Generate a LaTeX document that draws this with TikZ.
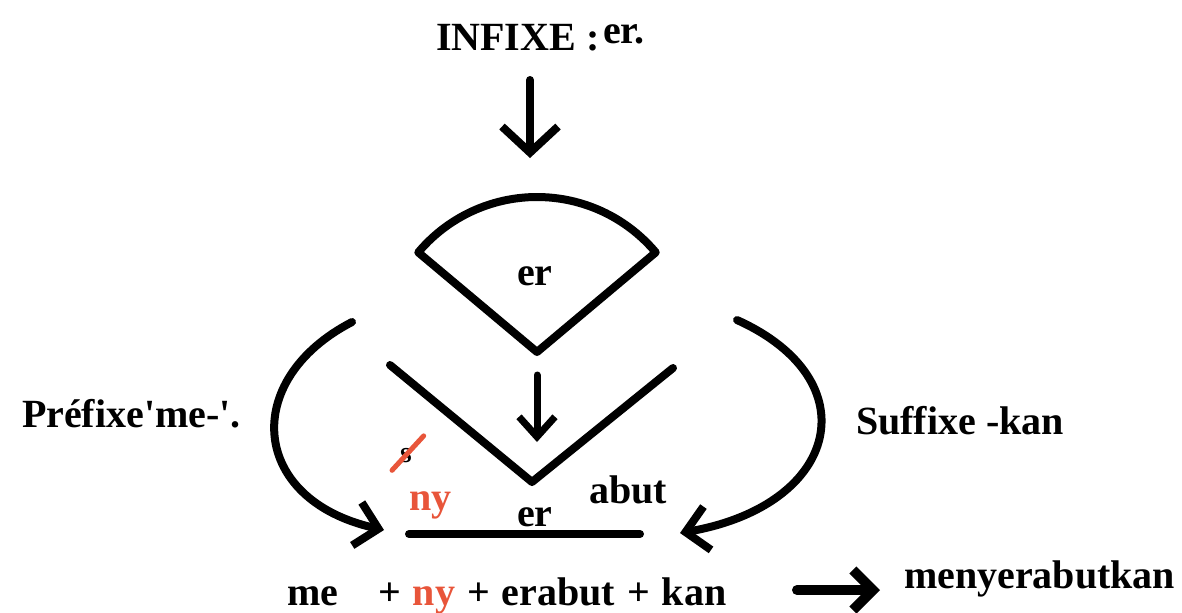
\documentclass[tikz,border=0pt]{standalone}
\usepackage{fontspec}
\setmainfont{Liberation Serif}
\usetikzlibrary{arrows.meta, positioning}
\definecolor{cred}{HTML}{E8553A}
\tikzset{
  every picture/.style={line width=4pt, line cap=round, line join=round},
  lbl/.style={font=\fontsize{20}{24}\selectfont\bfseries, inner sep=0pt, anchor=base west},
  arrow/.style={-{Straight Barb[#1]}},
  arrow/.default={length=11pt, width=22pt},
}

\begin{document}
\begin{tikzpicture}[x=0.5pt, y=-0.5pt]
  \useasboundingbox (0,0) rectangle (1182,612);
  % top label and first arrow
  \node[lbl] (infixe) at (432,50) {INFIXE :};
  \node[lbl] (infixeer) at (599,43) {er.};
  \coordinate (a1s) at (530,80);
  \coordinate (a1e) at (530,158);
  \draw[arrow={length=13pt, width=28pt}] (a1s) -- (a1e);
  % the fan with the infix
  \coordinate (fanapex) at (537,352);
  \draw (fanapex) -- +(220:155) arc[start angle=220, end angle=320, radius=155] -- cycle;
  \node[lbl] (faner) at (513,285) {er};
  \coordinate (a2s) at (537,375);
  \coordinate (a2e) at (537,442);
  \draw[arrow={length=10pt, width=18pt}, line width=3.5pt] (a2s) -- (a2e);
  % the opened root
  \coordinate (vl) at (390,365);
  \coordinate (vb) at (532,482);
  \coordinate (vr) at (673,368);
  \draw (vl) -- (vb) -- (vr);
  \node[lbl, font=\fontsize{15}{18}\selectfont\bfseries] (sdel) at (396,462) {s};
  \draw[cred, line width=2.5pt] (sdel.south west) ++(-4,4) coordinate (s1) -- ([shift={(8,-8)}]sdel.north east) coordinate (s2);
  \node[lbl, text=cred] (ny) at (405,510) {ny};
  \node[lbl] (rooter) at (513,526) {er};
  \node[lbl] (abut) at (585,503) {abut};
  \coordinate (bl) at (409,534);
  \coordinate (br) at (640,534);
  \draw (bl) -- (br);
  % prefix and suffix
  \node[lbl] (prefixe) at (18,427) {Préfixe\textquotesingle me-\textquotesingle.};
  \node[lbl] (suffixe) at (852,434) {Suffixe -kan};
  \coordinate (pl) at (352,322);
  \coordinate (pr) at (384,530);
  \draw[arrow] (pl) .. controls (240,380) and (250,500) .. (pr);
  \coordinate (sl) at (737,320);
  \coordinate (sr) at (680,533);
  \draw[arrow] (sl) .. controls (870,380) and (840,505) .. (sr);
  % result
  \node[lbl] (me) at (283,605) {me};
  \node[lbl] (sum) at (374,605) {\spaceskip=6pt + \textcolor{cred}{ny} + erabut + kan};
  \node[lbl] (result) at (900,588) {menyerabutkan};
  \coordinate (a3s) at (797,590);
  \coordinate (a3e) at (880,590);
  \draw[arrow={length=10pt, width=20pt}, line width=5pt] (a3s) -- (a3e);
\end{tikzpicture}
\end{document}
